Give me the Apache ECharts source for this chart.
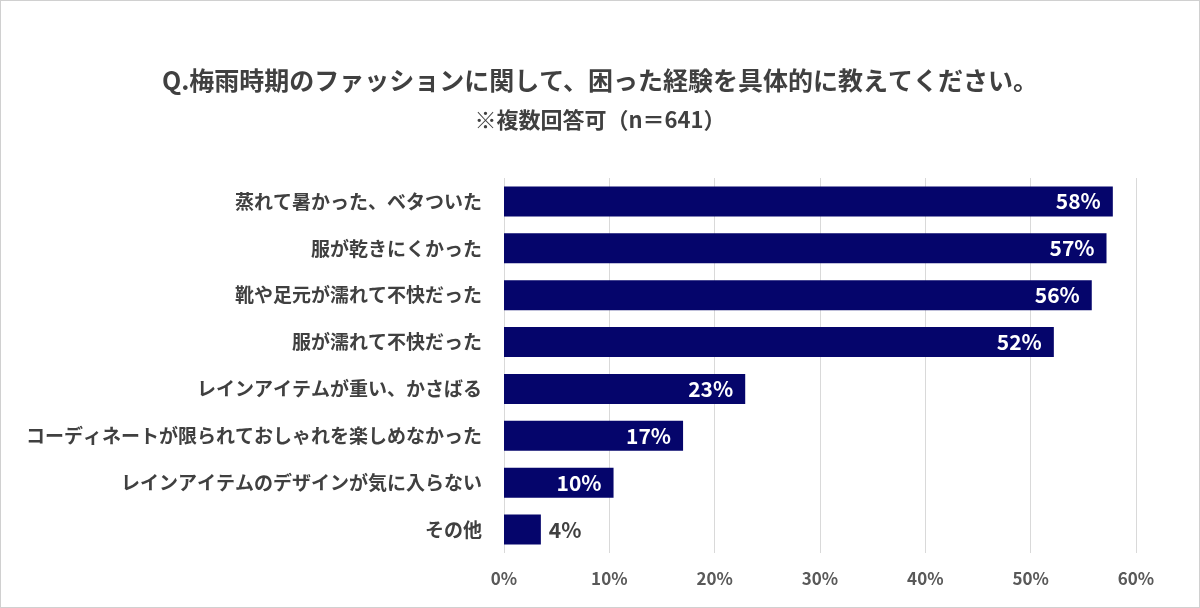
<!DOCTYPE html>
<html>
<head>
<meta charset="utf-8">
<script src="https://cdn.jsdelivr.net/npm/echarts@6/dist/echarts.min.js"></script>
<style>
  html, body { margin: 0; padding: 0; background: #fff; }
  #chart { width: 1198px; height: 606px; border: 1px solid #d0d0d0; }
</style>
</head>
<body>
<div id="chart"></div>
<script>
// 設問の回答項目（上から順）
var categories = [
  "蒸れて暑かった、ベタついた",
  "服が乾きにくかった",
  "靴や足元が濡れて不快だった",
  "服が濡れて不快だった",
  "レインアイテムが重い、かさばる",
  "コーディネートが限られておしゃれを楽しめなかった",
  "レインアイテムのデザインが気に入らない",
  "その他"
];
// 回答率（%）
var values = [57.8, 57.2, 55.8, 52.2, 22.9, 17.0, 10.4, 3.5];
var labels = ["58%", "57%", "56%", "52%", "23%", "17%", "10%", "4%"];
var xTicks = [0, 10, 20, 30, 40, 50, 60];

var font = "'Noto Sans CJK JP', 'Noto Sans', sans-serif";
var myChart = echarts.init(document.getElementById("chart"));

var barData = values.map(function (v, i) {
  var item = { value: v, label: { formatter: labels[i] } };
  if (v < 8) {
    item.label.position = "right";
    item.label.color = "#404040";
    item.label.distance = 8;
  }
  return item;
});

var option = {
  animation: false,
  textStyle: { fontFamily: font },
  title: [
    {
      text: "Q.梅雨時期のファッションに関して、困った経験を具体的に教えてください。",
      left: "center",
      top: 62,
      textStyle: { fontFamily: font, fontSize: 25, fontWeight: "bold", color: "#404040" }
    },
    {
      text: "※複数回答可（n＝641）",
      left: "center",
      top: 103,
      textStyle: { fontFamily: font, fontSize: 22, fontWeight: "bold", color: "#404040" }
    }
  ],
  grid: {
    left: 503,
    right: 63,
    top: 177,
    bottom: 54
  },
  xAxis: {
    type: "value",
    min: xTicks[0],
    max: xTicks[xTicks.length - 1],
    interval: 10,
    axisLine: { show: false },
    axisTick: { show: false },
    splitLine: { show: true, lineStyle: { color: "#d9d9d9", width: 1 } },
    axisLabel: {
      margin: 17,
      fontSize: 17,
      fontWeight: "bold",
      color: "#595959",
      formatter: function (v) { return v + "%"; }
    }
  },
  yAxis: {
    type: "category",
    inverse: true,
    data: categories,
    axisLine: { show: false },
    axisTick: { show: false },
    axisLabel: {
      margin: 22,
      fontSize: 19,
      fontWeight: "bold",
      color: "#404040"
    }
  },
  series: [
    {
      type: "bar",
      barWidth: 30,
      itemStyle: { color: "#05056b" },
      label: {
        show: true,
        position: "insideRight",
        distance: 12,
        color: "#fff",
        fontSize: 21,
        fontWeight: "bold"
      },
      data: barData
    }
  ]
};

myChart.setOption(option);
</script>
</body>
</html>
